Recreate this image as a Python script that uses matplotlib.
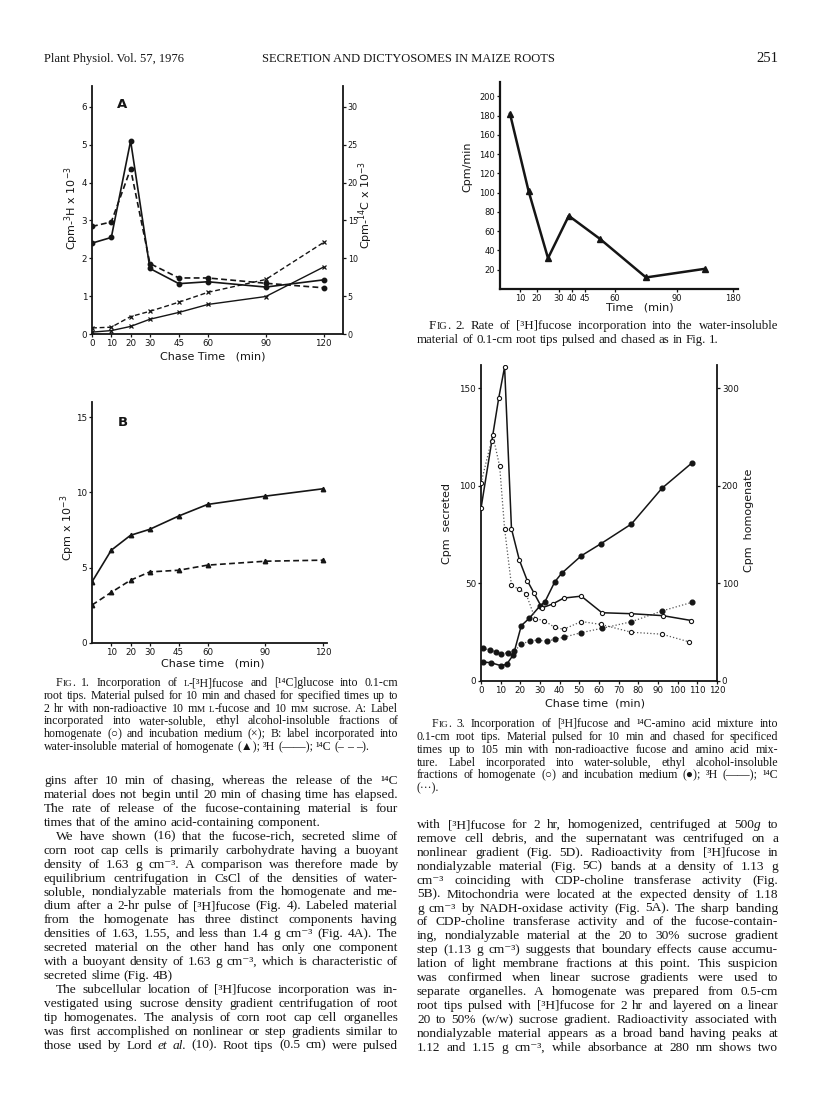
import numpy as np
import matplotlib
matplotlib.use("Agg")
import matplotlib.pyplot as plt

W, H = 816, 1099
INK = "#151515"
SERIF = ["Liberation Serif", "DejaVu Serif", "DejaVu Sans"]
SANS = ["DejaVu Sans"]

# ── Fig. 1A: water-soluble label, homogenate (●) and medium (×) ────────────────
chase_1 = [0, 10, 20, 30, 45, 60, 90, 120]
homog_3h = [2.40, 2.55, 5.10, 1.73, 1.33, 1.38, 1.24, 1.43]      # Cpm-3H x 10^-3
homog_14c = [14.2, 14.8, 21.8, 9.3, 7.4, 7.4, 6.7, 6.1]          # Cpm-14C x 10^-3
medium_3h = [0.05, 0.09, 0.20, 0.39, 0.57, 0.78, 0.99, 1.77]
medium_14c = [0.8, 0.9, 2.3, 3.0, 4.2, 5.5, 7.2, 12.1]

# ── Fig. 1B: water-insoluble label (▲) ────────────────────────────────────────
insol_3h = [4.06, 6.16, 7.15, 7.55, 8.43, 9.20, 9.75, 10.24]
insol_14c = [2.52, 3.36, 4.17, 4.72, 4.83, 5.17, 5.43, 5.50]

# ── Fig. 2: rate of incorporation (interval midpoints) ────────────────────────
rate_time = [5, 15, 25, 37.5, 52.5, 75, 135]
rate_cpm = [182, 102, 32, 76, 52, 12, 21]
rate_ticks = [10, 20, 30, 40, 45, 60, 90, 180]

# ── Fig. 3: homogenate (○, right axis) and medium (●, left axis) ──────────────
h3_time = [0, 5.5, 9, 12, 15.5, 19.5, 23.5, 27, 31, 36.5, 42, 51, 61.5, 76.5, 92.5, 107]
h3_cpm = [177, 246, 290, 322, 156, 124, 103, 90, 75, 79, 85, 87, 70, 69, 67, 62]
h14_time = [0, 6, 9.5, 12, 15.5, 19.5, 23, 27.5, 32, 37.5, 42, 51, 61, 76.5, 92, 106]
h14_cpm = [203, 252, 220, 156, 98, 94, 89, 64, 62, 55, 53, 61, 58, 50, 48, 40]
m3_time = [1, 5, 10, 13, 16.5, 20.5, 24.5, 30, 32.5, 37.5, 41, 51, 61, 76.5, 92, 107.5]
m3_cpm = [9.7, 9.4, 7.9, 8.5, 13.5, 28.4, 32.1, 38.5, 40.6, 50.8, 55.2, 64.2, 70.4, 80.5, 98.8, 112]
m14_time = [1, 4.5, 7.5, 10, 13.5, 17, 20.5, 25, 29, 33.5, 37.5, 42, 51, 61.5, 76.5, 92, 107.5]
m14_cpm = [16.8, 15.9, 15.0, 13.8, 14.5, 15.5, 18.8, 20.7, 20.9, 20.4, 21.4, 22.4, 24.8, 27.0, 30.4, 35.9, 40.4]

fig = plt.figure(figsize=(W / 100, H / 100), dpi=100)
fig.patch.set_facecolor("white")


def px_axes(l, t, r, b):
    return fig.add_axes([l / W, 1 - b / H, (r - l) / W, (b - t) / H])


def ftext(x, y, s, **kw):
    kw.setdefault("color", INK)
    return fig.text(x / W, 1 - y / H, s, **kw)


def style(ax, size=6.3, keep=("left", "bottom")):
    for k, sp in ax.spines.items():
        sp.set_visible(k in keep)
        sp.set_linewidth(1.3)
        sp.set_color(INK)
    ax.tick_params(labelsize=size, length=2, width=0.9, colors=INK, pad=1.5)
    for lab in ax.get_xticklabels() + ax.get_yticklabels():
        lab.set_family(SANS)
    ax.patch.set_alpha(0)


# ── Fig. 1A ───────────────────────────────────────────────────────────────────
ax = px_axes(92, 86, 343, 334)
axr = ax.twinx()
ax.set_xlim(0, 130)
ax.set_ylim(0, 6.55)
axr.set_ylim(0, 6.55 * 5)
ax.plot(chase_1, homog_3h, "-", color=INK, lw=1.2, marker="o", ms=3.2)
ax.plot(chase_1, medium_3h, "-", color=INK, lw=1.0, marker="x", ms=2.8, mew=0.9)
axr.plot(chase_1, homog_14c, "--", color=INK, lw=1.2, marker="o", ms=3.2, dashes=(3.5, 2))
axr.plot(chase_1, medium_14c, "--", color=INK, lw=1.0, marker="x", ms=2.8, mew=0.9, dashes=(3.5, 2))
ax.set_xticks(chase_1)
ax.set_yticks(range(7))
axr.set_yticks(range(0, 31, 5))
style(ax, keep=("left", "bottom"))
style(axr, size=5.8, keep=("right",))
ftext(122, 105, "A", fontsize=9.5, weight="bold", ha="center", va="center", family=SANS)
ftext(72, 208, "Cpm-$^3$H x 10$^{-3}$", fontsize=8, rotation=90, ha="center", va="center", family=SANS)
ftext(366, 205, "Cpm-$^{14}$C x 10$^{-3}$", fontsize=8, rotation=90, ha="center", va="center", family=SANS)
ftext(213, 357, "Chase Time   (min)", fontsize=8, ha="center", va="center", family=SANS)

# ── Fig. 1B ───────────────────────────────────────────────────────────────────
ax = px_axes(92, 402, 327, 643)
ax.set_xlim(0, 122)
ax.set_ylim(0, 16)
ax.plot(chase_1, insol_3h, "-", color=INK, lw=1.2, marker="^", ms=3.2)
ax.plot(chase_1, insol_14c, "--", color=INK, lw=1.2, marker="^", ms=3.2, dashes=(3.5, 2))
ax.set_xticks(chase_1[1:])
ax.set_yticks([0, 5, 10, 15])
style(ax)
ftext(123, 423, "B", fontsize=9.5, weight="bold", ha="center", va="center", family=SANS)
ftext(68, 528, "Cpm x 10$^{-3}$", fontsize=8, rotation=90, ha="center", va="center", family=SANS)
ftext(213, 663, "Chase time   (min)", fontsize=8, ha="center", va="center", family=SANS)

# ── Fig. 2 ────────────────────────────────────────────────────────────────────
# hand-drawn, uneven time axis: tick times and where they sit along the axis
scale_t = [0, 10, 20, 30, 40, 45, 60, 90, 180, 200]
scale_p = [0, 20, 37, 59, 72, 85, 115, 177, 233, 245.4]
ax = px_axes(500, 82, 738, 289)
ax.set_xscale("function", functions=(lambda t: np.interp(t, scale_t, scale_p),
                                      lambda p: np.interp(p, scale_p, scale_t)))
ax.set_xlim(0, 188)
ax.set_ylim(0, 215)
ax.plot(rate_time, rate_cpm, "-", color=INK, lw=1.8, marker="^", ms=4.5)
ax.set_xticks(rate_ticks)
ax.set_xticklabels([str(t) for t in rate_ticks])
ax.minorticks_off()
ax.set_yticks(range(20, 201, 20))
style(ax, size=6)
for sp in ax.spines.values():
    sp.set_linewidth(1.6)
ftext(467, 167, "Cpm/min", fontsize=8, rotation=90, ha="center", va="center", family=SANS)
ftext(640, 307, "Time   (min)", fontsize=8, ha="center", va="center", family=SANS)

# ── Fig. 3 ────────────────────────────────────────────────────────────────────
ax = px_axes(481, 365, 717, 681)
axr = ax.twinx()
ax.set_xlim(0, 120)
ax.set_ylim(0, 162)
axr.set_ylim(0, 324)
axr.plot(h3_time, h3_cpm, "-", color=INK, lw=1.1, marker="o", ms=3, mfc="white", mew=0.8)
axr.plot(h14_time, h14_cpm, ":", color="#555555", lw=0.9, marker="o", ms=3, mfc="white", mec=INK, mew=0.8)
ax.plot(m3_time, m3_cpm, "-", color=INK, lw=1.1, marker="o", ms=3.4)
ax.plot(m14_time, m14_cpm, ":", color="#555555", lw=0.9, marker="o", ms=3.4, mfc=INK, mec=INK)
ax.set_xticks(range(0, 121, 10))
ax.set_yticks([0, 50, 100, 150])
axr.set_yticks([0, 100, 200, 300])
style(ax, keep=("left", "bottom"))
style(axr, keep=("right",))
ftext(447, 523, "Cpm  secreted", fontsize=8, rotation=90, ha="center", va="center", family=SANS)
ftext(749, 520, "Cpm  homogenate", fontsize=8, rotation=90, ha="center", va="center", family=SANS)
ftext(595, 703, "Chase time  (min)", fontsize=8, ha="center", va="center", family=SANS)

# ── page text ─────────────────────────────────────────────────────────────────
rend = fig.canvas.get_renderer()


def runs_of(word):
    # *..* italic, ~..~ small capitals
    runs, buf, mode = [], "", "n"
    for ch in word:
        if ch in "*~":
            if buf:
                runs.append((buf, mode))
            buf = ""
            new = "i" if ch == "*" else "s"
            mode = "n" if mode == new else new
        else:
            buf += ch
    if buf:
        runs.append((buf, mode))
    return runs


def set_line(text, x0, x1, y, size, justify=True, indent=0):
    words = []
    for w in text.split():
        parts = []
        for s, m in runs_of(w):
            t = ftext(0, 0, s, fontsize=size * 0.78 if m == "s" else size, family=SERIF,
                      style="italic" if m == "i" else "normal", va="baseline", ha="left")
            parts.append((t, t.get_window_extent(rend).width))
        words.append(parts)
    widths = [sum(p[1] for p in parts) for parts in words]
    start = x0 + indent
    gap = size * 0.25 * 100 / 72
    if justify and len(words) > 1:
        gap = (x1 - start - sum(widths)) / (len(words) - 1)
    x = start
    for parts, w in zip(words, widths):
        for t, pw in parts:
            t.set_position((x / W, 1 - y / H))
            x += pw
        x += gap


def set_block(lines, x0, x1, y0, step, size):
    # each entry: (text, justified, indent)
    for i, (txt, just, ind) in enumerate(lines):
        set_line(txt, x0, x1, y0 + i * step, size, just, ind)


LX0, LX1 = 44, 398
RX0, RX1 = 417, 778

ftext(LX0, 62, "Plant Physiol. Vol. 57, 1976", fontsize=9, family=SERIF, va="baseline")
ftext(408, 62, "SECRETION AND DICTYOSOMES IN MAIZE ROOTS", fontsize=9, family=SERIF,
      va="baseline", ha="center")
ftext(RX1, 62, "251", fontsize=10.5, family=SERIF, va="baseline", ha="right")

cap1 = [
    ("F~IG~. 1. Incorporation of ~L~-[³H]fucose and [¹⁴C]glucose into 0.1-cm", True, 12),
    ("root tips. Material pulsed for 10 min and chased for specified times up to", True, 0),
    ("2 hr with non-radioactive 10 m~M~ ~L~-fucose and 10 m~M~ sucrose. A: Label", True, 0),
    ("incorporated into water-soluble, ethyl alcohol-insoluble fractions of", True, 0),
    ("homogenate (○) and incubation medium (×); B: label incorporated into", True, 0),
    ("water-insoluble material of homogenate (▲); ³H (——); ¹⁴C (– – –).", False, 0),
]
set_block(cap1, LX0, LX1, 686, 12.8, 8.6)

body_left = [
    ("gins after 10 min of chasing, whereas the release of the ¹⁴C", True, 0),
    ("material does not begin until 20 min of chasing time has elapsed.", True, 0),
    ("The rate of release of the fucose-containing material is four", True, 0),
    ("times that of the amino acid-containing component.", False, 0),
    ("We have shown (16) that the fucose-rich, secreted slime of", True, 12),
    ("corn root cap cells is primarily carbohydrate having a buoyant", True, 0),
    ("density of 1.63 g cm⁻³. A comparison was therefore made by", True, 0),
    ("equilibrium centrifugation in CsCl of the densities of water-", True, 0),
    ("soluble, nondialyzable materials from the homogenate and me-", True, 0),
    ("dium after a 2-hr pulse of [³H]fucose (Fig. 4). Labeled material", True, 0),
    ("from the homogenate has three distinct components having", True, 0),
    ("densities of 1.63, 1.55, and less than 1.4 g cm⁻³ (Fig. 4A). The", True, 0),
    ("secreted material on the other hand has only one component", True, 0),
    ("with a buoyant density of 1.63 g cm⁻³, which is characteristic of", True, 0),
    ("secreted slime (Fig. 4B)", False, 0),
    ("The subcellular location of [³H]fucose incorporation was in-", True, 12),
    ("vestigated using sucrose density gradient centrifugation of root", True, 0),
    ("tip homogenates. The analysis of corn root cap cell organelles", True, 0),
    ("was first accomplished on nonlinear or step gradients similar to", True, 0),
    ("those used by Lord *et* *al.* (10). Root tips (0.5 cm) were pulsed", True, 0),
]
set_block(body_left, LX0, LX1, 784, 13.93, 9.6)

cap2 = [
    ("F~IG~. 2. Rate of [³H]fucose incorporation into the water-insoluble", True, 12),
    ("material of 0.1-cm root tips pulsed and chased as in Fig. 1.", False, 0),
]
set_block(cap2, RX0, RX1, 329, 14, 9.3)

cap3 = [
    ("F~IG~. 3. Incorporation of [³H]fucose and ¹⁴C-amino acid mixture into", True, 15),
    ("0.1-cm root tips. Material pulsed for 10 min and chased for specificed", True, 0),
    ("times up to 105 min with non-radioactive fucose and amino acid mix-", True, 0),
    ("ture. Label incorporated into water-soluble, ethyl alcohol-insoluble", True, 0),
    ("fractions of homogenate (○) and incubation medium (●); ³H (——); ¹⁴C", True, 0),
    ("(···).", False, 0),
]
set_block(cap3, RX0, RX1, 727, 12.85, 8.6)

body_right = [
    ("with [³H]fucose for 2 hr, homogenized, centrifuged at 500*g* to", True, 0),
    ("remove cell debris, and the supernatant was centrifuged on a", True, 0),
    ("nonlinear gradient (Fig. 5D). Radioactivity from [³H]fucose in", True, 0),
    ("nondialyzable material (Fig. 5C) bands at a density of 1.13 g", True, 0),
    ("cm⁻³ coinciding with CDP-choline transferase activity (Fig.", True, 0),
    ("5B). Mitochondria were located at the expected density of 1.18", True, 0),
    ("g cm⁻³ by NADH-oxidase activity (Fig. 5A). The sharp banding", True, 0),
    ("of CDP-choline transferase activity and of the fucose-contain-", True, 0),
    ("ing, nondialyzable material at the 20 to 30% sucrose gradient", True, 0),
    ("step (1.13 g cm⁻³) suggests that boundary effects cause accumu-", True, 0),
    ("lation of light membrane fractions at this point. This suspicion", True, 0),
    ("was confirmed when linear sucrose gradients were used to", True, 0),
    ("separate organelles. A homogenate was prepared from 0.5-cm", True, 0),
    ("root tips pulsed with [³H]fucose for 2 hr and layered on a linear", True, 0),
    ("20 to 50% (w/w) sucrose gradient. Radioactivity associated with", True, 0),
    ("nondialyzable material appears as a broad band having peaks at", True, 0),
    ("1.12 and 1.15 g cm⁻³, while absorbance at 280 nm shows two", True, 0),
]
set_block(body_right, RX0, RX1, 828, 13.92, 9.6)

fig.savefig("out.png", dpi=100, facecolor="white")
